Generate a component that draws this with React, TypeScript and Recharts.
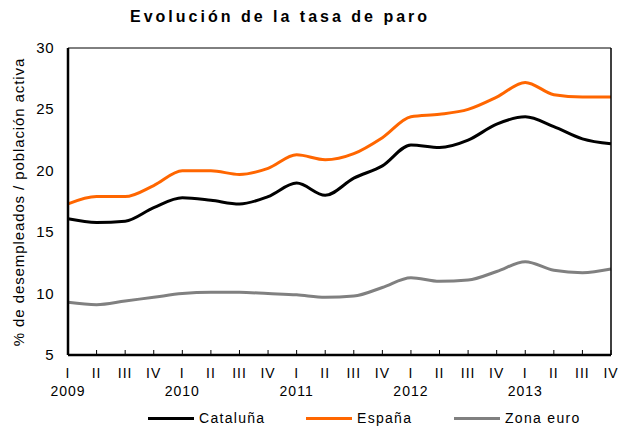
import { LineChart, Line, XAxis, YAxis } from 'recharts';

const quarters = [
  'I', 'II', 'III', 'IV',
  'I', 'II', 'III', 'IV',
  'I', 'II', 'III', 'IV',
  'I', 'II', 'III', 'IV',
  'I', 'II', 'III', 'IV',
];
const years = [
  '2009', '', '', '',
  '2010', '', '', '',
  '2011', '', '', '',
  '2012', '', '', '',
  '2013', '', '', '',
];

const cataluna = [16.1, 15.8, 15.9, 17.0, 17.8, 17.6, 17.3, 17.9, 19.0, 18.0, 19.4, 20.4, 22.1, 21.9, 22.5, 23.8, 24.4, 23.6, 22.6, 22.2];
const espana = [17.3, 17.9, 17.9, 18.8, 20.0, 20.0, 19.7, 20.2, 21.3, 20.9, 21.4, 22.7, 24.4, 24.6, 25.0, 26.0, 27.2, 26.2, 26.0, 26.0];
const zonaEuro = [9.3, 9.1, 9.4, 9.7, 10.0, 10.1, 10.1, 10.0, 9.9, 9.7, 9.8, 10.5, 11.3, 11.0, 11.1, 11.8, 12.6, 11.9, 11.7, 12.0];

const yTicks = [5, 10, 15, 20, 25, 30];

const series = [
  { key: 'cataluna', name: 'Cataluña', color: '#000000', left: 148 },
  { key: 'espana', name: 'España', color: '#ff6600', left: 306 },
  { key: 'zonaEuro', name: 'Zona euro', color: '#808080', left: 454 },
];

const data = quarters.map((q, i) => ({
  idx: i,
  q,
  year: years[i],
  cataluna: cataluna[i],
  espana: espana[i],
  zonaEuro: zonaEuro[i],
}));

const font = 'Liberation Sans, Arial, sans-serif';

function QuarterTick(props: any) {
  const { x, y, payload } = props;
  const d = data[payload.value];
  return (
    <g>
      <line x1={x} y1={y - 5} x2={x} y2={y} stroke="#000" strokeWidth={1} />
      <text x={x} y={y + 23} textAnchor="middle" fontSize={14} letterSpacing={1} fontFamily={font} fill="#000">
        {d.q}
      </text>
      {d.year && (
        <text x={x} y={y + 41} textAnchor="middle" fontSize={14} letterSpacing={1} fontFamily={font} fill="#000">
          {d.year}
        </text>
      )}
    </g>
  );
}

function ValueTick(props: any) {
  const { x, y, payload } = props;
  return (
    <text x={x - 14} y={y + 5} textAnchor="end" fontSize={15} letterSpacing={0.5} fontFamily={font} fill="#000">
      {payload.value}
    </text>
  );
}

export default function App() {
  return (
    <div style={{ position: 'absolute', left: 0, top: 0, width: 619, height: 428, background: '#fff', fontFamily: font }}>
      <div
        style={{
          position: 'absolute',
          left: 130,
          top: 8,
          fontWeight: 'bold',
          fontSize: 16,
          letterSpacing: 3,
          color: '#000',
          whiteSpace: 'nowrap',
        }}
      >
        Evolución de la tasa de paro
      </div>
      <LineChart width={619} height={428} data={data} margin={{ top: 47, right: 7, bottom: 72, left: 28 }}>
        <XAxis
          xAxisId="main"
          dataKey="idx"
          type="category"
          interval={0}
          tickSize={0}
          tickMargin={0}
          tick={<QuarterTick />}
          axisLine={{ stroke: '#000', strokeWidth: 2.5 }}
          tickLine={false}
          height={1}
        />
        <XAxis
          xAxisId="top"
          dataKey="idx"
          orientation="top"
          tick={false}
          tickLine={false}
          axisLine={{ stroke: '#000', strokeWidth: 1 }}
          height={1}
        />
        <YAxis
          yAxisId="main"
          domain={[5, 30]}
          ticks={yTicks}
          tickSize={0}
          tickMargin={0}
          tick={<ValueTick />}
          axisLine={{ stroke: '#000', strokeWidth: 2.5 }}
          tickLine={false}
          width={40}
          label={() => (
            <text
              x={18}
              y={202}
              transform="rotate(-90 18 202)"
              textAnchor="middle"
              dominantBaseline="central"
              fontSize={15}
              letterSpacing={0.9}
              fontFamily={font}
              fill="#000"
            >
              % de desempleados / población activa
            </text>
          )}
        />
        <YAxis
          yAxisId="right"
          orientation="right"
          domain={[5, 30]}
          tick={false}
          tickLine={false}
          axisLine={{ stroke: '#000', strokeWidth: 1.5 }}
          width={1}
        />
        {series.map((s) => (
          <Line
            key={s.key}
            xAxisId="main"
            yAxisId="main"
            type="monotone"
            dataKey={s.key}
            name={s.name}
            stroke={s.color}
            strokeWidth={3}
            dot={false}
            isAnimationActive={false}
          />
        ))}
      </LineChart>
      {series.map((s) => (
        <div
          key={s.key}
          style={{ position: 'absolute', top: 410, left: s.left, display: 'flex', alignItems: 'center', fontSize: 14, whiteSpace: 'nowrap' }}
        >
          <div style={{ width: 46, height: 3, background: s.color, marginRight: 5 }} />
          <span style={{ letterSpacing: 1.3 }}>{s.name}</span>
        </div>
      ))}
    </div>
  );
}
